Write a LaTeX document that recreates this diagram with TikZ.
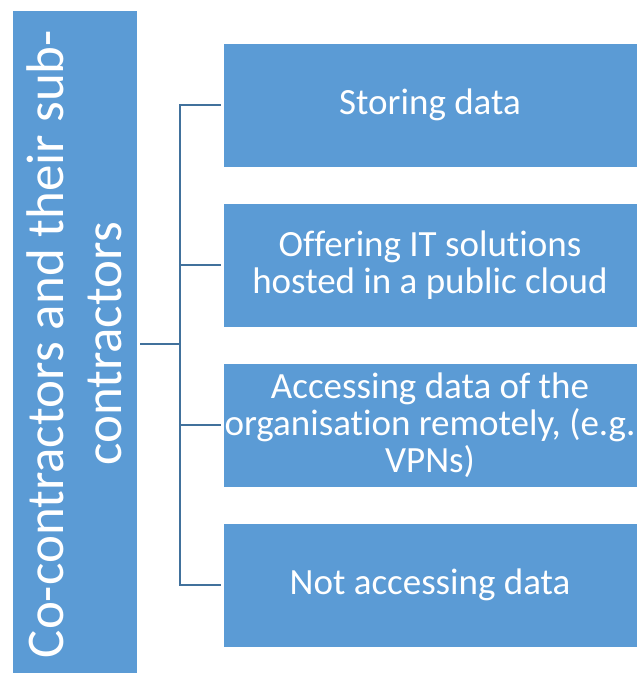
\documentclass[tikz,border=0pt]{standalone}
\usepackage{fontspec}
\setmainfont{Carlito}[Ligatures=NoCommon, Contextuals=NoAlternate]
\usepackage{xcolor}
\usepackage{tikz}
\usetikzlibrary{positioning}

\definecolor{boxblue}{RGB}{91,155,213}
\definecolor{linkblue}{RGB}{65,113,156}

\begin{document}
\begin{tikzpicture}[
      x=1pt, y=-1pt,
      group/.style ={rectangle, draw=white, line width=0.8pt, fill=boxblue, text=white,
                     rotate=90, align=center, inner sep=0pt, outer sep=0pt,
                     minimum width=668pt, minimum height=125pt,
                     font=\fontsize{53}{58}\selectfont},
      task/.style  ={rectangle, draw=white, line width=0.8pt, fill=boxblue, text=white,
                     align=center, inner sep=0pt, outer sep=0pt,
                     minimum width=414pt, minimum height=124pt,
                     font=\fontsize{37}{37}\selectfont},
      link/.style  ={draw=linkblue, line width=2pt},
      node distance=36pt
    ]
    \useasboundingbox (0,0) rectangle (637,673);

    % Gruppe til venstre
    \node[group] (CC) at (74.5,344) {Co-contractors and their sub-\\contractors};

    % Oppgaver til hoeyre
    \node[task] (T1) at (430,105) {Storing data};
    \node[task, below=of T1] (T2) {Offering IT solutions\\hosted in a public cloud};
    \node[task, below=of T2] (T3) {Accessing data of the\\organisation remotely, (e.g.\\VPNs)};
    \node[task, below=of T3] (T4) {Not accessing data};

    % Forgreining
    \coordinate (fork) at (180,344);
    \draw[link] ([xshift=3pt]CC.south) -- (fork);
    \foreach \t in {T1,T2,T3,T4}
      \draw[link] (fork) |- ([xshift=-2pt]\t.west);

  \end{tikzpicture}
\end{document}
